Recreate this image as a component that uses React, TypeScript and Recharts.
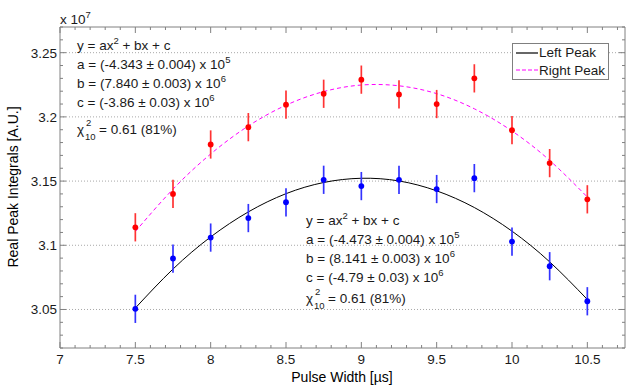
import React from 'react';
import {
  ComposedChart,
  Line,
  Scatter,
  ErrorBar,
  XAxis,
  YAxis,
  CartesianGrid,
} from 'recharts';

// pulse widths (µs)
const pulseWidths = [7.5, 7.75, 8, 8.25, 8.5, 8.75, 9, 9.25, 9.5, 9.75, 10, 10.25, 10.5];

// measured peak integrals (x 1e7)
const leftPeak = [3.0505, 3.0897, 3.106, 3.1212, 3.1335, 3.151, 3.1461, 3.151, 3.1438, 3.1523, 3.1029, 3.0837, 3.0564];
const rightPeak = [3.114, 3.14, 3.1785, 3.192, 3.2095, 3.218, 3.229, 3.2175, 3.21, 3.23, 3.1896, 3.164, 3.1358];
const leftErr = [0.011, 0.011, 0.011, 0.011, 0.011, 0.011, 0.011, 0.011, 0.011, 0.011, 0.011, 0.011, 0.011];
const rightErr = [0.011, 0.011, 0.011, 0.011, 0.011, 0.011, 0.011, 0.011, 0.011, 0.011, 0.011, 0.011, 0.011];

// fitted curves at the same pulse widths
const leftFit = [3.0511, 3.0815, 3.1065, 3.126, 3.1402, 3.1489, 3.1522, 3.1501, 3.1424, 3.1294, 3.111, 3.0871, 3.0578];
const rightFit = [3.1107, 3.1437, 3.1711, 3.1929, 3.2091, 3.2197, 3.2248, 3.2242, 3.2181, 3.2063, 3.189, 3.1661, 3.1376];

// axes
const xMajor = [7, 7.5, 8, 8.5, 9, 9.5, 10, 10.5];
const yMajor = [3.05, 3.1, 3.15, 3.2, 3.25];
const xDomain = [7, 10.75];
const yDomain = [3.02, 3.27];

const steps = (lo: number, hi: number, step: number, digits: number) => {
  const out: number[] = [];
  for (let v = lo; v <= hi + 1e-9; v += step) out.push(Number(v.toFixed(digits)));
  return out;
};
const xTicks = steps(7, 10.7, 0.1, 1);
const yTicks = steps(3.02, 3.27, 0.01, 2);
const isMajor = (v: number, list: number[]) => list.some((m) => Math.abs(m - v) < 1e-6);

const leftData = pulseWidths.map((x, i) => ({ x, y: leftPeak[i], err: leftErr[i] }));
const rightData = pulseWidths.map((x, i) => ({ x, y: rightPeak[i], err: rightErr[i] }));
const leftFitData = pulseWidths.map((x, i) => ({ x, y: leftFit[i] }));
const rightFitData = pulseWidths.map((x, i) => ({ x, y: rightFit[i] }));

const FONT = '"Liberation Sans", Arial, sans-serif';
const AXIS = '#808080';
const TXT = '#1a1a1a';

const BottomTick = (props: any) => {
  const { x, y, payload } = props;
  const major = isMajor(payload.value, xMajor);
  return (
    <g>
      <line x1={x} x2={x} y1={y} y2={y - (major ? 6 : 3)} stroke={AXIS} />
      {major && (
        <text x={x} y={y + 16} textAnchor="middle" fontSize={13.5} fill={TXT} fontFamily={FONT}>
          {String(payload.value)}
        </text>
      )}
    </g>
  );
};

const TopTick = (props: any) => {
  const { x, y, payload } = props;
  const major = isMajor(payload.value, xMajor);
  return <line x1={x} x2={x} y1={y} y2={y + (major ? 6 : 3)} stroke={AXIS} />;
};

const LeftTick = (props: any) => {
  const { x, y, payload } = props;
  const major = isMajor(payload.value, yMajor);
  return (
    <g>
      <line x1={x} x2={x + (major ? 6 : 3)} y1={y} y2={y} stroke={AXIS} />
      {major && (
        <text x={x - 3} y={y} dy="0.36em" textAnchor="end" fontSize={13.5} fill={TXT} fontFamily={FONT}>
          {String(payload.value)}
        </text>
      )}
    </g>
  );
};

const RightTick = (props: any) => {
  const { x, y, payload } = props;
  const major = isMajor(payload.value, yMajor);
  return <line x1={x} x2={x - (major ? 6 : 3)} y1={y} y2={y} stroke={AXIS} />;
};

const Dot = (color: string) => (props: any) => <circle cx={props.cx} cy={props.cy} r={2.9} fill={color} />;

const FitBlock = ({ x, y, lines }: { x: number; y: number; lines: string[][] }) => (
  <g fontFamily={FONT} fontSize={13.5} fill={TXT}>
    <text x={x} y={y}>
      y = ax<tspan dy={-6} fontSize={9.5}>2</tspan>
      <tspan dy={6}> + bx + c</tspan>
    </text>
    {lines.map((l, i) => (
      <text key={i} x={x} y={y + 19 * (i + 1)}>
        {l[0]}
        <tspan dy={-6} fontSize={9.5}>{l[1]}</tspan>
      </text>
    ))}
  </g>
);

const Chi = ({ x, y }: { x: number; y: number }) => (
  <g fontFamily={FONT} fill={TXT}>
    <text x={x} y={y} fontSize={13.5}>χ</text>
    <text x={x + 9} y={y - 8} fontSize={9.5}>2</text>
    <text x={x + 8} y={y + 6} fontSize={9.5}>10</text>
    <text x={x + 22} y={y} fontSize={13.5}>= 0.61 (81%)</text>
  </g>
);

export default function App() {
  return (
    <div style={{ position: 'absolute', left: 0, top: 0, width: 626, height: 385, background: '#fff' }}>
      <ComposedChart
        width={626}
        height={385}
        margin={{ top: 26, right: 0, bottom: 0, left: 0 }}
        style={{ fontFamily: FONT }}
      >
        <CartesianGrid vertical={false} horizontalValues={yMajor} stroke="#a8a8a8" strokeDasharray="1 2" />
        <XAxis
          dataKey="x"
          type="number"
          domain={xDomain}
          ticks={xTicks}
          interval={0}
          allowDataOverflow
          height={37}
          tickSize={0}
          tickMargin={0}
          tick={<BottomTick />}
          axisLine={{ stroke: AXIS }}
          tickLine={false}
        />
        <XAxis
          xAxisId="top"
          orientation="top"
          dataKey="x"
          type="number"
          domain={xDomain}
          ticks={xTicks}
          interval={0}
          allowDataOverflow
          height={1}
          tickSize={0}
          tickMargin={0}
          tick={<TopTick />}
          axisLine={{ stroke: AXIS }}
          tickLine={false}
        />
        <YAxis
          dataKey="y"
          type="number"
          domain={yDomain}
          ticks={yTicks}
          interval={0}
          allowDataOverflow
          width={60}
          tickSize={0}
          tickMargin={0}
          tick={<LeftTick />}
          axisLine={{ stroke: AXIS }}
          tickLine={false}
        />
        <YAxis
          yAxisId="right"
          orientation="right"
          type="number"
          domain={yDomain}
          ticks={yTicks}
          interval={0}
          allowDataOverflow
          width={1}
          tickSize={0}
          tickMargin={0}
          tick={<RightTick />}
          axisLine={{ stroke: AXIS }}
          tickLine={false}
        />
        <Line
          data={leftFitData}
          dataKey="y"
          type="natural"
          stroke="#000000"
          strokeWidth={1}
          dot={false}
          activeDot={false}
          isAnimationActive={false}
        />
        <Line
          data={rightFitData}
          dataKey="y"
          type="natural"
          stroke="#ff00ff"
          strokeWidth={1}
          strokeDasharray="4 3"
          dot={false}
          activeDot={false}
          isAnimationActive={false}
        />
        <Scatter data={leftData} dataKey="y" shape={Dot('#0000ff')} isAnimationActive={false}>
          <ErrorBar dataKey="err" direction="y" width={0} stroke="#3333ff" strokeWidth={1.7} isAnimationActive={false} />
        </Scatter>
        <Scatter data={rightData} dataKey="y" shape={Dot('#ff0000')} isAnimationActive={false}>
          <ErrorBar dataKey="err" direction="y" width={0} stroke="#ff3333" strokeWidth={1.7} isAnimationActive={false} />
        </Scatter>
      </ComposedChart>

      <svg width={626} height={385} style={{ position: 'absolute', left: 0, top: 0, pointerEvents: 'none' }}>
        <text x={60} y={24} fontFamily={FONT} fontSize={13.5} fill={TXT}>
          x 10<tspan dy={-6} fontSize={9.5}>7</tspan>
        </text>
        <text
          x={0}
          y={0}
          transform="translate(18,187) rotate(-90)"
          textAnchor="middle"
          fontFamily={FONT}
          fontSize={14}
          fill="#000"
        >
          Real Peak Integrals [A.U.]
        </text>
        <text x={342} y={382} textAnchor="middle" fontFamily={FONT} fontSize={14} fill="#000">
          Pulse Width [µs]
        </text>
        <FitBlock
          x={77}
          y={50}
          lines={[
            ['a = (-4.343 ± 0.004) x 10', '5'],
            ['b = (7.840 ± 0.003) x 10', '6'],
            ['c = (-3.86 ± 0.03) x 10', '6'],
          ]}
        />
        <Chi x={77} y={134} />
        <FitBlock
          x={306}
          y={225}
          lines={[
            ['a = (-4.473 ± 0.004) x 10', '5'],
            ['b = (8.141 ± 0.003) x 10', '6'],
            ['c = (-4.79 ± 0.03) x 10', '6'],
          ]}
        />
        <Chi x={306} y={303} />
      </svg>

      <div
        style={{
          position: 'absolute',
          left: 512,
          top: 43,
          width: 95,
          height: 35,
          border: '1px solid #7f7f7f',
          background: '#fff',
          fontFamily: FONT,
          fontSize: 13.5,
          color: TXT,
          lineHeight: '17.5px',
        }}
      >
        {[
          { name: 'Left Peak', color: '#000', dash: undefined },
          { name: 'Right Peak', color: '#ff00ff', dash: '4 2' },
        ].map((e) => (
          <div key={e.name} style={{ display: 'flex', alignItems: 'center', height: 17.5 }}>
            <svg width={26} height={10} style={{ flex: 'none' }}>
              <line x1={3} x2={25} y1={5} y2={5} stroke={e.color} strokeWidth={1.2} strokeDasharray={e.dash} />
            </svg>
            <span>{e.name}</span>
          </div>
        ))}
      </div>
    </div>
  );
}
